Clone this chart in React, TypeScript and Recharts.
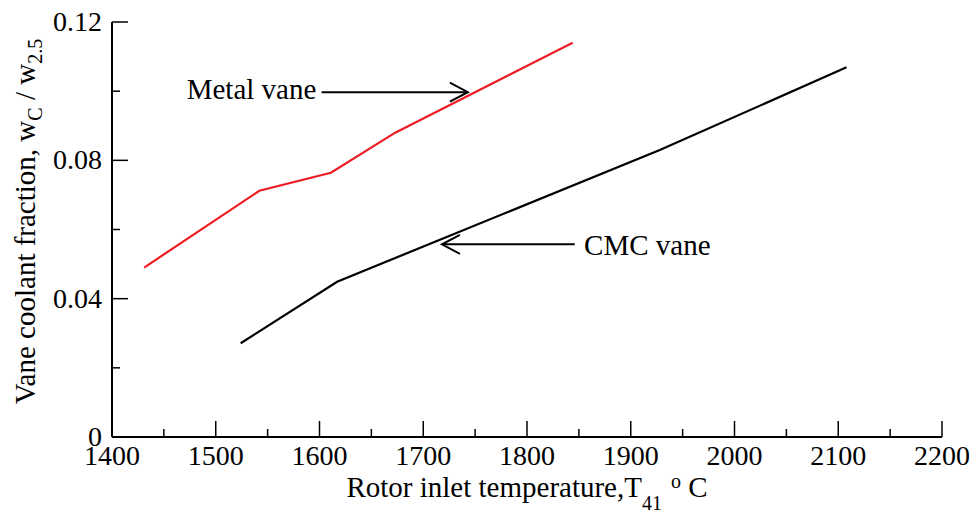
import React from 'react';
import { LineChart, Line, XAxis, YAxis, ReferenceLine, ReferenceDot, Label } from 'recharts';

// temperature ticks (every 50, labels on the hundreds)
const tempTicks = [1400, 1450, 1500, 1550, 1600, 1650, 1700, 1750, 1800, 1850, 1900, 1950, 2000, 2050, 2100, 2150, 2200];
const fracTicks = [0, 0.02, 0.04, 0.06, 0.08, 0.1, 0.12];

// metal vane curve
const metalTemp = [1431, 1542, 1611, 1673, 1844];
const metalFrac = [0.049, 0.0712, 0.0764, 0.088, 0.114];

// CMC vane curve
const cmcTemp = [1524, 1617, 1928, 2108];
const cmcFrac = [0.0271, 0.0449, 0.083, 0.1069];

// annotation anchors, in data units
const metalLabelAt = { x: 1472, y: 0.0977 };
const metalArrow = [{ x: 1602, y: 0.0997 }, { x: 1743, y: 0.0997 }];
const cmcLabelAt = { x: 1855, y: 0.0526 };
const cmcArrow = [{ x: 1846, y: 0.0557 }, { x: 1718, y: 0.0557 }];

const metalData = metalTemp.map((t, i) => ({ t, w: metalFrac[i] }));
const cmcData = cmcTemp.map((t, i) => ({ t, w: cmcFrac[i] }));

const FONT = '"Liberation Serif", "Times New Roman", serif';
const TICK_FS = 28;
const TEXT_FS = 29;
const SUB_FS = 20;
const MAJOR = 16;
const MINOR = 8;

const isMajorTemp = (v: number) => v % 100 === 0;
const isMajorFrac = (v: number) => Math.round(v * 100) % 4 === 0;

const BottomTick = (props: any) => {
  const { x, y, payload } = props;
  const major = isMajorTemp(payload.value);
  return (
    <g>
      <line x1={x} y1={y} x2={x} y2={y - (major ? MAJOR : MINOR)} stroke="#000" strokeWidth={1.5} />
      {major && (
        <text x={x} y={y + 28} textAnchor="middle" fontSize={TICK_FS} fontFamily={FONT} fill="#000">
          {payload.value}
        </text>
      )}
    </g>
  );
};

const TopTick = (props: any) => {
  const { x, y, payload } = props;
  const major = isMajorTemp(payload.value);
  return <line x1={x} y1={y} x2={x} y2={y + (major ? MAJOR : MINOR)} stroke="#000" strokeWidth={1.5} />;
};

const LeftTick = (props: any) => {
  const { x, y, payload } = props;
  const major = isMajorFrac(payload.value);
  return (
    <g>
      <line x1={x} y1={y} x2={x + (major ? MAJOR : MINOR)} y2={y} stroke="#000" strokeWidth={1.5} />
      {major && (
        <text x={x - 10} y={y + 9} textAnchor="end" fontSize={TICK_FS} fontFamily={FONT} fill="#000">
          {payload.value === 0 ? '0' : payload.value.toFixed(2)}
        </text>
      )}
    </g>
  );
};

const RightTick = (props: any) => {
  const { x, y, payload } = props;
  const major = isMajorFrac(payload.value);
  return <line x1={x} y1={y} x2={x - (major ? MAJOR : MINOR)} y2={y} stroke="#000" strokeWidth={1.5} />;
};

const XTitle = (props: any) => {
  const vb = props.viewBox;
  return (
    <text x={vb.x + vb.width / 2} y={vb.y + 60} textAnchor="middle" fontSize={TEXT_FS} fontFamily={FONT} fill="#000">
      Rotor inlet temperature,T
      <tspan fontSize={SUB_FS} dy={13}>41</tspan>
      <tspan fontSize={SUB_FS} dy={-22} dx={9}>o</tspan>
      <tspan dy={9}> C</tspan>
    </text>
  );
};

const YTitle = (props: any) => {
  const vb = props.viewBox;
  const cx = vb.x + 35;
  const cy = vb.y + vb.height / 2 - 8;
  return (
    <text
      x={cx}
      y={cy}
      transform={`rotate(-90 ${cx} ${cy})`}
      textAnchor="middle"
      fontSize={TEXT_FS}
      fontFamily={FONT}
      fill="#000"
    >
      Vane coolant fraction, w
      <tspan fontSize={SUB_FS} dy={7}>C</tspan>
      <tspan dy={-7}> / w</tspan>
      <tspan fontSize={SUB_FS} dy={7}>2.5</tspan>
    </text>
  );
};

const arrowHead = (dir: number) => (props: any) => {
  const { cx, cy } = props;
  return (
    <path
      d={`M${cx - dir * 18},${cy - 9.5} L${cx},${cy} L${cx - dir * 18},${cy + 9.5}`}
      fill="none"
      stroke="#000"
      strokeWidth={2}
    />
  );
};

const labelShape = (text: string) => (props: any) => (
  <text x={props.cx} y={props.cy} fontSize={TEXT_FS} fontFamily={FONT} fill="#000">
    {text}
  </text>
);

const App: React.FC = () => {
  return (
    <div style={{ position: 'absolute', left: 0, top: 0, background: '#fff' }}>
      <LineChart width={977} height={516} margin={{ top: 22, right: 35, left: 0, bottom: 0 }}>
        <XAxis
          dataKey="t"
          type="number"
          domain={[1400, 2200]}
          ticks={tempTicks}
          interval={0}
          allowDataOverflow
          height={79}
          tickSize={0}
          tickMargin={0}
          tickLine={false}
          tick={<BottomTick />}
          axisLine={{ stroke: '#000', strokeWidth: 2 }}
        >
          <Label content={<XTitle />} />
        </XAxis>
        <XAxis
          xAxisId="top"
          orientation="top"
          type="number"
          domain={[1400, 2200]}
          ticks={tempTicks}
          interval={0}
          allowDataOverflow
          height={0}
          tickSize={0}
          tickMargin={0}
          tickLine={false}
          tick={<TopTick />}
          axisLine={{ stroke: '#000', strokeWidth: 2 }}
        />
        <YAxis
          type="number"
          domain={[0, 0.12]}
          ticks={fracTicks}
          interval={0}
          allowDataOverflow
          width={112}
          tickSize={0}
          tickMargin={0}
          tickLine={false}
          tick={<LeftTick />}
          axisLine={{ stroke: '#000', strokeWidth: 2 }}
        >
          <Label content={<YTitle />} />
        </YAxis>
        <YAxis
          yAxisId="right"
          orientation="right"
          type="number"
          domain={[0, 0.12]}
          ticks={fracTicks}
          interval={0}
          allowDataOverflow
          width={0}
          tickSize={0}
          tickMargin={0}
          tickLine={false}
          tick={<RightTick />}
          axisLine={{ stroke: '#000', strokeWidth: 2 }}
        />
        <Line
          data={metalData}
          dataKey="w"
          type="linear"
          stroke="#ec1c24"
          strokeWidth={2.2}
          dot={false}
          isAnimationActive={false}
        />
        <Line
          data={cmcData}
          dataKey="w"
          type="linear"
          stroke="#000"
          strokeWidth={2.2}
          dot={false}
          isAnimationActive={false}
        />
        <ReferenceLine segment={metalArrow} stroke="#000" strokeWidth={2} />
        <ReferenceDot x={metalArrow[1].x} y={metalArrow[1].y} shape={arrowHead(1)} />
        <ReferenceDot x={metalLabelAt.x} y={metalLabelAt.y} shape={labelShape('Metal vane')} />
        <ReferenceLine segment={cmcArrow} stroke="#000" strokeWidth={2} />
        <ReferenceDot x={cmcArrow[1].x} y={cmcArrow[1].y} shape={arrowHead(-1)} />
        <ReferenceDot x={cmcLabelAt.x} y={cmcLabelAt.y} shape={labelShape('CMC vane')} />
      </LineChart>
    </div>
  );
};

export default App;
